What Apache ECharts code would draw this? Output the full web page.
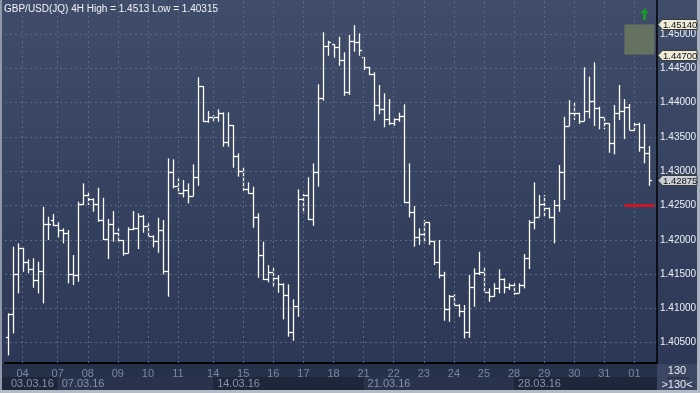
<!DOCTYPE html>
<html><head><meta charset="utf-8">
<script src="https://cdn.jsdelivr.net/npm/echarts@6/dist/echarts.min.js"></script>
<style>html,body{margin:0;padding:0;background:#2f3b57;overflow:hidden}#c{width:700px;height:393px}</style>
</head><body><div id="c"></div>
<script>
// ---------- data ----------
const titleText = 'GBP/USD(JQ) 4H High = 1.4513 Low = 1.40315';
const firstDayName = '03';
const dayStartIdx = [3,10,16,22,28,34,41,47,53,59,65,71,77,83,89,95,101,107,113,119,125];
const dayNames = ['04','07','08','09','10','11','14','15','16','17','18','21','22','23','24','25','28','29','30','31','01'];
const weekStartIdx = [0,10,41,71,101];
const weekNames = ['03.03.16','07.03.16','14.03.16','21.03.16','28.03.16'];
const barCount = 130;
const opens = [1.40587,1.40918,1.41497,1.41884,1.4168,1.41569,1.41413,1.41545,1.4223,1.42288,
1.42215,1.42142,1.42094,1.41497,1.41486,1.42521,1.42653,1.42594,1.42521,1.42288,
1.42011,1.4223,1.42094,1.41997,1.41811,1.42153,1.42167,1.42351,1.42205,1.4206,
1.41982,1.42142,1.41549,1.42992,1.42784,1.42685,1.42726,1.42638,1.4292,1.44242,
1.43732,1.43794,1.43786,1.43853,1.4343,1.43673,1.43226,1.43007,1.42736,1.42686,
1.42328,1.41778,1.41428,1.41526,1.41438,1.41351,1.4119,1.40651,1.41034,1.4259,
1.4265,1.423,1.42984,1.44063,1.44825,1.4485,1.44806,1.44621,1.44159,1.44898,
1.44879,1.4466,1.44523,1.44413,1.43965,1.43902,1.43761,1.43698,1.43756,1.43805,
1.42555,1.42409,1.42045,1.4208,1.42255,1.41986,1.4168,1.41486,1.40986,1.4118,
1.41055,1.40966,1.4066,1.41307,1.4152,1.41534,1.41245,1.4118,1.41301,1.41424,
1.41316,1.4134,1.41228,1.4134,1.4173,1.42263,1.42336,1.42517,1.42468,1.42336,
1.42507,1.42992,1.43659,1.43853,1.43853,1.43736,1.43882,1.44028,1.43917,1.43786,
1.43698,1.43415,1.43853,1.43882,1.43931,1.43605,1.43688,1.43357,1.43261];
const highs = [1.40928,1.41899,1.41948,1.41884,1.41715,1.4173,1.4168,1.42482,1.42336,1.42376,
1.42255,1.42167,1.42142,1.41778,1.42555,1.42823,1.42701,1.42605,1.42759,1.42613,
1.42303,1.42419,1.42167,1.41997,1.42182,1.42419,1.42386,1.42361,1.4224,1.42065,
1.42322,1.42288,1.43188,1.43173,1.42896,1.42871,1.42823,1.431,1.44369,1.44242,
1.43877,1.43819,1.43902,1.43858,1.43858,1.43673,1.43261,1.43065,1.42838,1.42774,
1.42386,1.41972,1.41632,1.41593,1.41486,1.41365,1.41351,1.41132,1.42736,1.42667,
1.42911,1.43115,1.44267,1.45025,1.44902,1.4485,1.44961,1.44733,1.44986,1.4513,
1.4501,1.4466,1.44523,1.44442,1.44257,1.44136,1.44052,1.43771,1.43853,1.43975,
1.43115,1.42492,1.42167,1.42288,1.42255,1.41986,1.41997,1.41534,1.41195,1.41205,
1.4106,1.41049,1.41486,1.41584,1.41826,1.41599,1.41292,1.41365,1.41569,1.41438,
1.41365,1.41365,1.41365,1.41792,1.42288,1.42838,1.42653,1.42653,1.4247,1.4258,
1.4309,1.43794,1.44038,1.43998,1.43853,1.44515,1.44378,1.44587,1.4394,1.43805,
1.43698,1.43965,1.44257,1.44052,1.4398,1.43707,1.43707,1.43688,1.43367];
const lows = [1.40315,1.40636,1.41219,1.41534,1.41511,1.41301,1.41219,1.41074,1.41997,1.42201,
1.42036,1.41948,1.41365,1.4134,1.41389,1.42507,1.42507,1.42409,1.42263,1.41997,
1.4172,1.41972,1.41957,1.41768,1.41803,1.42142,1.41865,1.42103,1.42045,1.4189,
1.41811,1.41497,1.4117,1.4275,1.42677,1.42619,1.42532,1.42638,1.42788,1.43721,
1.43707,1.43721,1.43721,1.43357,1.43357,1.43051,1.4292,1.42715,1.42677,1.42176,
1.41447,1.41413,1.4138,1.41316,1.41228,1.4084,1.40587,1.40528,1.40878,1.42386,
1.42288,1.42205,1.42774,1.44028,1.44684,1.44655,1.44538,1.441,1.44111,1.44742,
1.44684,1.44475,1.44402,1.43736,1.4383,1.4364,1.43673,1.43663,1.43721,1.42532,
1.42328,1.41899,1.41924,1.41948,1.41924,1.41632,1.41438,1.4082,1.40805,1.41049,
1.40878,1.40563,1.40572,1.41024,1.41486,1.41234,1.41097,1.4117,1.41219,1.41219,
1.41268,1.41195,1.41225,1.41292,1.41574,1.42153,1.42336,1.42336,1.42313,1.41948,
1.42409,1.4258,1.43659,1.43746,1.43688,1.4373,1.43771,1.43659,1.43611,1.43611,
1.43269,1.43246,1.43746,1.43469,1.436,1.4359,1.43284,1.43115,1.42788];
const closes = [1.40918,1.41497,1.41884,1.4168,1.41569,1.41413,1.41545,1.4223,1.42226,1.42215,
1.42142,1.42094,1.41497,1.41486,1.42521,1.42653,1.42594,1.42521,1.42288,1.42011,
1.4223,1.42094,1.41997,1.41811,1.42153,1.42167,1.42351,1.42205,1.4206,1.41982,
1.42142,1.41549,1.42992,1.42784,1.42685,1.42726,1.42638,1.4292,1.44242,1.43732,
1.43794,1.43786,1.43853,1.4343,1.43673,1.43226,1.43007,1.42736,1.42686,1.42328,
1.41778,1.41428,1.41526,1.41438,1.41351,1.4119,1.40651,1.41034,1.4259,1.4265,
1.423,1.42984,1.44063,1.44825,1.44879,1.44806,1.44621,1.44159,1.44898,1.44879,
1.44767,1.44523,1.44413,1.43965,1.43902,1.43761,1.43698,1.43756,1.43805,1.42555,
1.42409,1.42045,1.4208,1.42255,1.41986,1.4168,1.41486,1.40986,1.4118,1.41055,
1.40966,1.4066,1.41307,1.4152,1.41534,1.41245,1.4118,1.41301,1.41424,1.41316,
1.4134,1.41228,1.4134,1.4173,1.42263,1.42336,1.42517,1.42468,1.42336,1.42507,
1.42992,1.43659,1.43853,1.43853,1.43736,1.43882,1.44028,1.43917,1.43786,1.43698,
1.43415,1.43853,1.43882,1.43931,1.43605,1.43688,1.43357,1.43261,1.42875];
const yMin = 1.40204, yMax = 1.45496;
const boxTop = 1.4514, boxBottom = 1.4470;
const redLineLevel = 1.425;
const lastPrice = 1.42875;
const arrowLevel = 1.4529;
const countText = '130', countText2 = '>130<';

// ---------- build ----------
const FONT = "'Liberation Sans',Arial,sans-serif";
const categories = [];
for (let i = 0; i < barCount; i++) {
  let name = firstDayName, start = 0;
  for (let k = 0; k < dayStartIdx.length; k++) if (i >= dayStartIdx[k]) { name = dayNames[k]; start = dayStartIdx[k]; }
  categories.push(name + ' #' + (i - start));
}
const ohlc = opens.map((o, i) => [i, o, highs[i], lows[i], closes[i]]);

const chart = echarts.init(document.getElementById('c'), null, {renderer: 'canvas'});
const gridCol = '#5a6884';
chart.setOption({
  animation: false,
  backgroundColor: '#2f3b57',
  title: {text: titleText, left: 4, top: 4, padding: 0,
    textStyle: {color: '#f2f4f8', fontSize: 10, fontWeight: 'normal', fontFamily: FONT}},
  grid: {left: 5, right: 43, top: 0, bottom: 30},
  xAxis: {type: 'category', data: categories, boundaryGap: true,
    axisLine: {lineStyle: {color: '#000', width: 2}},
    axisTick: {show: false},
    axisLabel: {interval: (i) => dayStartIdx.indexOf(i) >= 0, formatter: (v) => v.slice(0, 2),
      color: '#7a87a1', fontSize: 11, margin: 5, fontFamily: FONT},
    splitLine: {show: false}},
  yAxis: {type: 'value', position: 'right', min: yMin, max: yMax, splitNumber: 10, scale: true,
    axisLine: {show: true, lineStyle: {color: '#000', width: 1.5}},
    axisTick: {show: false},
    axisLabel: {showMinLabel: false, showMaxLabel: false, formatter: (v) => v.toFixed(5),
      color: '#eef2f8', fontSize: 10, margin: 3, fontFamily: FONT},
    splitLine: {show: true, showMinLine: false, showMaxLine: false, lineStyle: {type: [2, 3], color: gridCol, width: 1}}},
  series: [
    {type: 'line', data: [], z: 1, silent: true,
      markLine: {silent: true, symbol: ['none', 'none'], label: {show: false}, animation: false,
        lineStyle: {type: [2, 3], color: gridCol, width: 1},
        data: dayStartIdx.map(i => ({xAxis: i}))}},
    {type: 'custom', z: 3, data: ohlc, encode: {x: 0, y: [1, 2, 3, 4]},
      renderItem: function (params, api) {
        const i = api.value(0);
        const o = api.coord([i, api.value(1)]);
        const h = api.coord([i, api.value(2)]);
        const l = api.coord([i, api.value(3)]);
        const c = api.coord([i, api.value(4)]);
        const w = api.size([1, 0])[0];
        const t = w * 0.5;
        const x = Math.round(h[0]) + 0.5;
        const st = {stroke: '#ffffff', lineWidth: 1.3};
        return {type: 'group', children: [
          {type: 'line', shape: {x1: x, y1: h[1], x2: x, y2: l[1]}, style: st},
          {type: 'line', shape: {x1: x - t, y1: Math.round(o[1]) + 0.5, x2: x, y2: Math.round(o[1]) + 0.5}, style: st},
          {type: 'line', shape: {x1: x, y1: Math.round(c[1]) + 0.5, x2: x + t, y2: Math.round(c[1]) + 0.5}, style: st}
        ]};
      }},
    {type: 'line', data: [], z: 4, silent: true,
      markArea: {silent: true, itemStyle: {color: '#65725f'},
        data: [[{xAxis: 122.5, yAxis: boxTop}, {xAxis: 129.5, yAxis: boxBottom}]]},
      markLine: {silent: true, symbol: ['none', 'none'], label: {show: false},
        data: [
          [{xAxis: 122.5, yAxis: boxTop, lineStyle: {color: '#c3c7bd', width: 1.5, type: 'solid'}}, {xAxis: 129.5, yAxis: boxTop}],
          [{xAxis: 122.5, yAxis: boxBottom, lineStyle: {color: '#c3c7bd', width: 1.5, type: 'solid'}}, {xAxis: 129.5, yAxis: boxBottom}],
          [{xAxis: 122.5, yAxis: redLineLevel, lineStyle: {color: '#e3101c', width: 2.5, type: 'solid'}}, {xAxis: 128.5, yAxis: redLineLevel}]
        ]},
      markPoint: {silent: true, label: {show: false},
        data: [{coord: [126.5, arrowLevel], symbol: 'path://M5,0 L10,5 L6.6,5 L6.6,12 L3.4,12 L3.4,5 L0,5 Z',
          symbolSize: [9, 12], itemStyle: {color: '#169a2a'}}]}}
  ]
});

// ---------- decorations computed from the axes ----------
const px = i => chart.convertToPixel({xAxisIndex: 0}, i);
const py = v => chart.convertToPixel({yAxisIndex: 0}, v);
const plotRight = 657;
const els = [];
els.push({type: 'rect', z: -10, shape: {x: 0, y: 0, width: 700, height: 364},
  style: {fill: new echarts.graphic.LinearGradient(0, 0, 0, 1, [{offset: 0, color: '#3f4d6b'}, {offset: 1, color: '#2c3855'}])}});
els.push({type: 'rect', z: -10, shape: {x: 0, y: 364, width: plotRight, height: 13}, style: {fill: '#253149'}});
els.push({type: 'rect', z: -10, shape: {x: 0, y: 377, width: plotRight, height: 13}, style: {fill: '#1e273a'}});
for (let k = 1; k < weekStartIdx.length; k += 2) {
  const x0 = px(weekStartIdx[k]);
  const x1 = k + 1 < weekStartIdx.length ? px(weekStartIdx[k + 1]) : plotRight;
  els.push({type: 'rect', z: -9, shape: {x: x0, y: 377, width: x1 - x0, height: 13}, style: {fill: '#29344c'}});
}
weekNames.forEach((n, k) => {
  const x = k === 0 ? 11 : px(weekStartIdx[k]) + 4;
  els.push({type: 'text', z: 5, style: {x: x, y: 384, text: n, fill: '#8592ab', font: '11px ' + FONT, verticalAlign: 'middle', align: 'left'}});
});
els.push({type: 'rect', z: -9, shape: {x: plotRight, y: 364, width: 40, height: 26}, style: {fill: '#3a4662'}});
els.push({type: 'text', z: 5, style: {x: 677, y: 371, text: countText, fill: '#e8ecf2', font: '11px ' + FONT, align: 'center', verticalAlign: 'middle'}});
els.push({type: 'line', z: 5, shape: {x1: 667, y1: 378, x2: 689, y2: 378}, style: {stroke: '#1c2333', lineWidth: 1}});
els.push({type: 'text', z: 5, style: {x: 677, y: 385, text: countText2, fill: '#e8ecf2', font: '11px ' + FONT, align: 'center', verticalAlign: 'middle'}});
// frame
els.push({type: 'rect', z: 6, shape: {x: 0, y: 0, width: 2, height: 393}, style: {fill: '#8e98aa'}});
els.push({type: 'rect', z: 6, shape: {x: 697, y: 0, width: 3, height: 393}, style: {fill: '#a9b1be'}});
els.push({type: 'rect', z: 6, shape: {x: 0, y: 390, width: 700, height: 3}, style: {fill: '#b3bbc7'}});
// price tags
[[boxTop, '#efedd9'], [boxBottom, '#efedd9'], [lastPrice, '#c9ced6']].forEach(([v, bg]) => {
  const y = Math.round(py(v)) + 0.5;
  els.push({type: 'polygon', z: 7, shape: {points: [[658, y], [662.5, y - 5], [697, y - 5], [697, y + 5], [662.5, y + 5]]},
    style: {fill: bg, stroke: '#3c3c3c', lineWidth: 1}});
  els.push({type: 'text', z: 8, style: {x: 663, y: y + 0.5, text: v.toFixed(5), fill: '#111', font: '9.5px ' + FONT, verticalAlign: 'middle', align: 'left'}});
});
chart.setOption({graphic: {elements: els}});
</script>
</body></html>
